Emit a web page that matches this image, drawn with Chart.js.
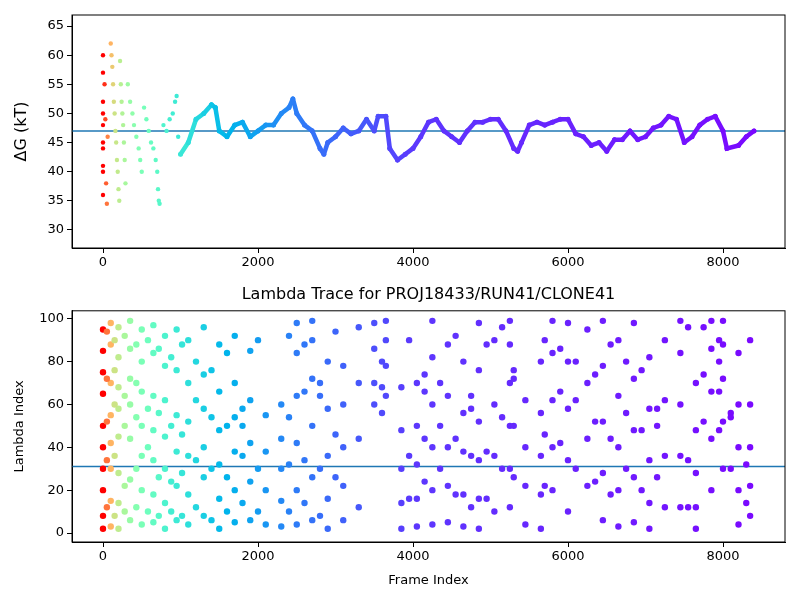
<!DOCTYPE html>
<html>
<head>
<meta charset="utf-8">
<script src="https://cdn.jsdelivr.net/npm/chart.js@4"></script>
<style>
  body { margin: 0; background: #fff; font-family: "DejaVu Sans", sans-serif; }
  #wrap { position: relative; width: 800px; height: 600px; }
  #topBox { position: absolute; left: 0; top: 0; width: 800px; height: 290px; }
  #botBox { position: absolute; left: 0; top: 300px; width: 800px; height: 288px; }
  #title { position: absolute; left: 72px; width: 713px; top: 284px; text-align: center; font-size: 16px; color: #000; }
</style>
</head>
<body>
<div id="wrap">
  <div id="topBox"><canvas id="dgChart"></canvas></div>
  <div id="title">Lambda Trace for PROJ18433/RUN41/CLONE41</div>
  <div id="botBox"><canvas id="lambdaChart"></canvas></div>
</div>
<script>
// ---- data ----
const xTicks = [0, 2000, 4000, 6000, 8000];
const dgTicks = [30, 35, 40, 45, 50, 55, 60, 65];
const lambdaTicks = [0, 20, 40, 60, 80, 100];

// noisy start of the free energy trace
const dgEarlyFrames = [0,0,0,0,0,0,0,0,0,0, 20,30,40,50,60,
  100,110,120,130,140,150,160,170,180,190,200,210,
  220,230,240,250,260,270,280,290,
  320,350,380,400,430,460,480,500,
  530,560,590,620,650,680,700,710,720,730,
  780,820,860,900,930,950,970];
const dgEarlyValues = [60,57,52,50,48,45,44,41,40,36, 55,49,38,34.5,46,
  62,60,58,55,52,50,47,45,42,40,37,35,
  59,55,52,50,48,45,42,38,
  55,52,50,48,46,44,42,40,
  51,49,47,45,44,42,40,37,35,34.5,
  48,47,49,50,52,53,46];

// settled part of the trace
const dgFrames = [1000,1100,1200,1300,1400,1450,1500,1600,1700,1800,1900,2000,2100,2200,2300,2400,2450,2500,2600,2700,2800,2850,2900,3000,3100,3200,3300,3400,3500,3550,3650,3700,3800,3900,4000,4100,4200,4300,4400,4500,4600,4700,4800,4900,5000,5100,5200,5300,5350,5400,5500,5600,5700,5800,5900,6000,6100,6200,6300,6400,6500,6600,6700,6800,6900,7000,7100,7200,7300,7400,7500,7600,7700,7800,7900,8000,8050,8200,8300,8400];
const dgValues = [43,45,49,50,51.5,51,47,46,48,48.5,46,47,48,48,50,51,52.5,50,48,47,44,43,45,46,47.5,46.5,47,49,47,49.5,49.5,44,42,43,44,46,48.5,49,47,46,45,47,48.5,48.5,49,49,47,44,43.5,45,48,48.5,48,48.5,49,49,46.5,46,44.5,45,43.5,45.5,45.5,47,45.5,46,47.5,48,49.5,49,45,46,48,49,49.5,47,44,44.5,46,47];
const dgMean = 47;

// lambda index scatter
const lambdaFrames = [
  0,0,0,0,0,0,0,0,0,0,
  100,100,100,100,100,100,100,100,
  200,200,200,200,200,200,200,200,
  350,350,350,350,350,350,350,
  500,500,500,500,500,500,500,
  650,650,650,650,650,650,650,
  800,800,800,800,800,800,800,
  950,950,950,950,950,950,
  1100,1100,1100,1100,1100,1100,
  1300,1300,1300,1300,1300,1300,
  1500,1500,1500,1500,1500,1500,
  1700,1700,1700,1700,1700,1700,
  1900,1900,1900,1900,1900,
  2100,2100,2100,2100,
  2300,2300,2300,2300,2300,
  2500,2500,2500,2500,2500,2500,
  2700,2700,2700,2700,2700,2700,
  2900,2900,2900,2900,2900,
  3100,3100,3100,3100,3100,
  3300,3300,3300,3300,
  3500,3500,3500,3500,
  3650,3650,3650,3650,
  3850,3850,3850,3850,3850,
  4050,4050,4050,4050,4050,
  4250,4250,4250,4250,4250,4250,
  4450,4450,4450,4450,4450,
  4650,4650,4650,4650,4650,
  4850,4850,4850,4850,4850,4850,
  5050,5050,5050,5050,
  5250,5250,5250,5250,5250,5250,
  5450,5450,5450,5450,
  5650,5650,5650,5650,5650,
  5800,5800,5800,5800,5800,
  6000,6000,6000,6000,6000,
  6250,6250,6250,6250,
  6450,6450,6450,6450,6450,
  6650,6650,6650,6650,6650,
  6850,6850,6850,6850,6850,
  7050,7050,7050,7050,7050,
  7250,7250,7250,7250,
  7450,7450,7450,7450,7450,
  7650,7650,7650,7650,7650,
  7850,7850,7850,7850,7850,
  8000,8000,8000,8000,8000,
  8200,8200,8200,8200,8200,
  8350,8350,8350,8350,8350,
  // second pass between the columns
  50,50,50,50,50,
  150,150,150,150,150,
  280,280,280,280,280,
  430,430,430,430,430,
  580,580,580,580,
  720,720,720,720,
  880,880,880,880,
  1020,1020,1020,1020,
  1200,1200,1200,1200,
  1400,1400,1400,1400,
  1600,1600,1600,1600,
  1800,1800,1800,1800,
  2000,2000,2000,
  2400,2400,2400,2400,
  2600,2600,2600,2600,
  2800,2800,2800,2800,
  3000,3000,3000,
  3600,3600,3600,
  3950,3950,3950,
  4150,4150,4150,4150,
  4350,4350,4350,
  4550,4550,4550,
  4750,4750,4750,4750,
  4950,4950,4950,
  5150,5150,5150,
  5300,5300,5300,5300,
  5700,5700,5700,
  5900,5900,5900,
  6100,6100,6100,
  6350,6350,6350,
  6550,6550,6550,
  6750,6750,6750,
  6950,6950,6950,
  7150,7150,7150,
  7550,7550,7550,
  7750,7750,7750,
  7950,7950,7950,7950,
  8100,8100,8100,
  8300,8300,8300
];
const lambdaValues = [
  95,85,75,65,50,40,30,20,8,2,
  98,88,70,55,42,30,15,3,
  96,82,68,58,45,28,14,2,
  99,86,72,60,44,25,6,
  95,80,66,50,36,20,4,
  97,84,64,48,34,18,5,
  92,78,62,45,30,14,2,
  95,76,55,38,22,6,
  90,70,52,36,18,4,
  96,74,58,40,26,8,
  88,66,48,32,16,2,
  92,70,54,38,20,5,
  85,62,42,24,6,
  55,38,20,4,
  60,44,30,15,3,
  98,84,64,42,20,4,
  99,90,72,50,26,6,
  80,58,36,16,2,
  78,60,40,22,6,
  96,70,44,12,
  98,86,70,60,
  99,90,78,64,
  68,48,30,14,2,
  70,50,32,16,3,
  99,82,60,40,20,4,
  88,64,40,22,5,
  80,56,38,18,3,
  98,76,52,34,16,2,
  90,60,36,10,
  99,88,70,50,30,12,
  62,40,22,4,
  80,56,36,18,2,
  99,84,62,40,20,
  98,80,58,34,10,
  95,70,44,22,
  99,78,52,28,6,
  90,64,40,20,3,
  98,72,48,26,5,
  82,58,34,14,2,
  90,62,36,12,
  99,84,60,36,12,
  70,48,28,12,2,
  99,86,66,44,20,
  99,88,72,52,30,
  84,60,40,20,4,
  60,40,22,8,
  // second pass
  90,72,52,34,12,
  94,76,60,36,8,
  90,64,50,22,10,
  92,70,54,30,12,
  88,58,40,10,
  90,56,26,8,
  86,50,24,10,
  82,46,28,8,
  88,62,34,12,
  80,54,30,6,
  76,50,26,10,
  84,58,36,14,
  50,30,10,
  90,54,32,10,
  92,66,34,14,
  88,64,30,8,
  70,46,26,
  94,80,68,
  56,36,16,
  90,66,44,24,
  74,50,30,
  70,44,18,
  92,64,36,12,
  58,38,16,
  88,54,30,
  96,76,50,26,
  72,46,22,
  90,66,42,
  86,62,30,
  80,52,24,
  74,44,18,
  88,56,30,
  80,48,20,
  76,50,26,
  58,34,12,
  96,74,52,
  96,80,66,48,
  90,56,30,
  54,32,14
];
const lambdaMean = 31;

// ---- colouring (matplotlib "rainbow", red early -> purple late) ----
function rainbow(t) {
    const r = Math.min(1, Math.abs(2 * t - 0.5));
    const g = Math.sin(Math.PI * t);
    const b = Math.cos(Math.PI * t / 2);
    return `rgb(${Math.round(r * 255)},${Math.round(g * 255)},${Math.round(b * 255)})`;
}
const colorStops = [[0, 1], [50, 0.85], [150, 0.65], [400, 0.52], [800, 0.4], [1500, 0.26], [2500, 0.16], [4000, 0.07], [8400, 0.01]];
function frameColor(f) {
    for (let i = 1; i < colorStops.length; i++) {
        const [f0, t0] = colorStops[i - 1], [f1, t1] = colorStops[i];
        if (f <= f1) return rainbow(t0 + (t1 - t0) * (f - f0) / (f1 - f0));
    }
    return rainbow(0.01);
}

const font = { family: "DejaVu Sans", size: 13 };
Chart.defaults.color = "#000";
Chart.defaults.animation = false;

const frameBox = {
    id: "frameBox",
    afterDraw(chart) {
        const { ctx, chartArea: a } = chart;
        ctx.save();
        ctx.strokeStyle = "#000";
        ctx.lineWidth = 1;
        ctx.strokeRect(a.left, a.top, a.right - a.left, a.bottom - a.top);
        ctx.restore();
    }
};

function axisX(label) {
    return {
        type: "linear", min: -400, max: 8800,
        afterBuildTicks: s => { s.ticks = xTicks.map(v => ({ value: v })); },
        grid: { drawOnChartArea: false, tickLength: 5, tickColor: "#000" },
        border: { color: "#000" },
        ticks: { font, padding: 2, maxRotation: 0, callback: v => String(v) },
        title: { display: !!label, text: label, font, padding: { top: 0, bottom: 0 } }
    };
}
function axisY(min, max, ticks, label, size) {
    return {
        min, max,
        afterBuildTicks: s => { s.ticks = ticks.map(v => ({ value: v })); },
        afterFit: s => { s.width = 62; },
        grid: { drawOnChartArea: false, tickLength: 5, tickColor: "#000" },
        border: { color: "#000" },
        ticks: { font, padding: 3, callback: v => String(v) },
        title: { display: true, text: label, font: { family: "DejaVu Sans", size }, padding: 2 }
    };
}
function meanLine(v) {
    return {
        type: "line",
        data: [{ x: -400, y: v }, { x: 8800, y: v }],
        borderColor: "#1f77b4", borderWidth: 1.5, pointRadius: 0
    };
}

new Chart(document.getElementById("dgChart"), {
    type: "scatter",
    data: {
        datasets: [
            {
                data: dgEarlyFrames.map((f, i) => ({ x: f, y: dgEarlyValues[i] })),
                pointRadius: 2.2, borderWidth: 0,
                pointBackgroundColor: c => frameColor(c.raw ? c.raw.x : 0)
            },
            {
                data: dgFrames.map((f, i) => ({ x: f, y: dgValues[i] })),
                showLine: true, borderWidth: 4.5, pointRadius: 2.5, pointBorderWidth: 0, borderCapStyle: "round",
                pointBackgroundColor: c => frameColor(c.raw ? c.raw.x : 0),
                segment: { borderColor: s => frameColor(s.p0.parsed.x) }
            },
            meanLine(dgMean)
        ]
    },
    options: {
        responsive: true, maintainAspectRatio: false,
        layout: { padding: { left: 10, top: 15, right: 15, bottom: 0 } },
        plugins: { legend: { display: false }, tooltip: { enabled: false } },
        scales: {
            x: { ...axisX(""), afterFit: s => { s.height = 42; } },
            y: axisY(26.9, 66.9, dgTicks, "ΔG (kT)", 16)
        }
    },
    plugins: [frameBox]
});

new Chart(document.getElementById("lambdaChart"), {
    type: "scatter",
    data: {
        datasets: [
            {
                data: lambdaFrames.map((f, i) => ({ x: f, y: lambdaValues[i] })),
                pointRadius: 3.2, borderWidth: 0,
                pointBackgroundColor: c => frameColor(c.raw ? c.raw.x : 0)
            },
            meanLine(lambdaMean)
        ]
    },
    options: {
        responsive: true, maintainAspectRatio: false,
        layout: { padding: { left: 10, top: 9, right: 15, bottom: 0 } },
        plugins: { legend: { display: false }, tooltip: { enabled: false } },
        scales: {
            x: { ...axisX("Frame Index"), afterFit: s => { s.height = 46; } },
            y: axisY(-4.2, 103.7, lambdaTicks, "Lambda Index", 13)
        }
    },
    plugins: [frameBox]
});
</script>
</body>
</html>
